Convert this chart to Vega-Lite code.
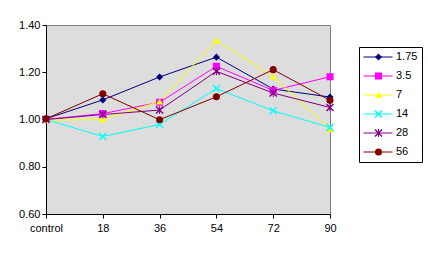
{
  "$schema": "https://vega.github.io/schema/vega-lite/v6.json",
  "width": 284,
  "height": 189,
  "autosize": {"type": "none"},
  "padding": {"left": 46, "top": 25, "right": 98, "bottom": 42},
  "background": "white",
  "config": {
    "view": {"fill": "#DDDDDD", "stroke": "#808080", "strokeWidth": 1},
    "font": "Liberation Sans",
    "axis": {"labelFont": "Liberation Sans", "labelFontSize": 11, "labelColor": "black", "domainColor": "black", "tickColor": "black", "tickSize": 4, "grid": false, "title": null},
    "legend": {"labelFont": "Liberation Sans", "labelFontSize": 11, "labelColor": "black"}
  },
  "data": {"values": [
    {"x": "control", "series": "1.75", "value": 1.003},
    {"x": "18", "series": "1.75", "value": 1.083},
    {"x": "36", "series": "1.75", "value": 1.18},
    {"x": "54", "series": "1.75", "value": 1.264},
    {"x": "72", "series": "1.75", "value": 1.129},
    {"x": "90", "series": "1.75", "value": 1.095},
    {"x": "control", "series": "3.5", "value": 1.0},
    {"x": "18", "series": "3.5", "value": 1.025},
    {"x": "36", "series": "3.5", "value": 1.073},
    {"x": "54", "series": "3.5", "value": 1.225},
    {"x": "72", "series": "3.5", "value": 1.123},
    {"x": "90", "series": "3.5", "value": 1.181},
    {"x": "control", "series": "7", "value": 0.997},
    {"x": "18", "series": "7", "value": 1.0},
    {"x": "36", "series": "7", "value": 1.076},
    {"x": "54", "series": "7", "value": 1.335},
    {"x": "72", "series": "7", "value": 1.182},
    {"x": "90", "series": "7", "value": 0.959},
    {"x": "control", "series": "14", "value": 1.0},
    {"x": "18", "series": "14", "value": 0.928},
    {"x": "36", "series": "14", "value": 0.979},
    {"x": "54", "series": "14", "value": 1.131},
    {"x": "72", "series": "14", "value": 1.037},
    {"x": "90", "series": "14", "value": 0.966},
    {"x": "control", "series": "28", "value": 1.0},
    {"x": "18", "series": "28", "value": 1.021},
    {"x": "36", "series": "28", "value": 1.04},
    {"x": "54", "series": "28", "value": 1.204},
    {"x": "72", "series": "28", "value": 1.112},
    {"x": "90", "series": "28", "value": 1.051},
    {"x": "control", "series": "56", "value": 1.003},
    {"x": "18", "series": "56", "value": 1.109},
    {"x": "36", "series": "56", "value": 0.999},
    {"x": "54", "series": "56", "value": 1.096},
    {"x": "72", "series": "56", "value": 1.211},
    {"x": "90", "series": "56", "value": 1.081}
  ]},
  "encoding": {
    "x": {"field": "x", "type": "ordinal", "sort": ["control", "18", "36", "54", "72", "90"],
          "scale": {"type": "point", "padding": 0},
          "axis": {"labelAngle": 0, "labelPadding": 4, "labelOverlap": false}},
    "y": {"field": "value", "type": "quantitative",
          "scale": {"domain": [0.6, 1.4], "nice": false, "zero": false},
          "axis": {"values": [0.6, 0.8, 1.0, 1.2, 1.4], "format": ".2f", "labelPadding": 2}}
  },
  "layer": [
    {
      "mark": {"type": "line", "strokeWidth": 1},
      "encoding": {
        "stroke": {"field": "series", "type": "nominal", "sort": ["1.75", "3.5", "7", "14", "28", "56"],
                  "scale": {"range": ["#000080", "#FF00FF", "#FFFF00", "#00FFFF", "#800080", "#800000"]},
                  "legend": {"title": null, "orient": "none", "legendX": 313, "legendY": 22, "symbolType": "stroke", "symbolSize": 841, "symbolStrokeWidth": 1, "strokeColor": "black", "padding": 4, "clipHeight": 12, "rowPadding": 7, "labelOffset": 3}}
      }
    },
    {
      "mark": {"type": "point", "filled": true, "size": 50, "opacity": 1},
      "encoding": {
        "shape": {"field": "series", "type": "nominal",
                  "scale": {"domain": ["1.75", "3.5", "7", "14", "28", "56"], "range": ["diamond", "square", "triangle-up", "M-0.86,-1.14L1.14,0.86L0.86,1.14L-1.14,-0.86ZM-1.14,0.86L0.86,-1.14L1.14,-0.86L-0.86,1.14Z", "M-0.86,-1.14L1.14,0.86L0.86,1.14L-1.14,-0.86ZM-1.14,0.86L0.86,-1.14L1.14,-0.86L-0.86,1.14ZM-0.14,-1.1L0.14,-1.1L0.14,1.1L-0.14,1.1Z", "circle"]},
                  "legend": {"title": null, "orient": "none", "legendX": 323, "legendY": 22, "padding": 4, "clipHeight": 12, "rowPadding": 7, "labelExpr": "''", "symbolSize": 50}},
        "fill": {"field": "series", "type": "nominal",
                 "scale": {"domain": ["1.75", "3.5", "7", "14", "28", "56"], "range": ["#000080", "#FF00FF", "#FFFF00", "#00FFFF", "#800080", "#800000"]},
                 "legend": {"title": null, "orient": "none", "legendX": 323, "legendY": 22, "padding": 4, "clipHeight": 12, "rowPadding": 7, "labelExpr": "''", "symbolSize": 50}}
      }
    }
  ]
}
